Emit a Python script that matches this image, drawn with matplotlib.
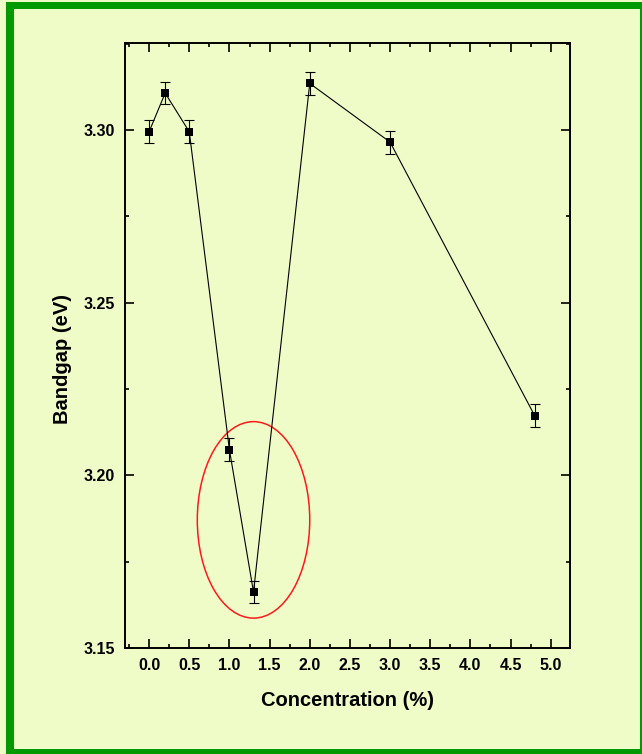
import matplotlib
matplotlib.use("Agg")
import matplotlib.pyplot as plt
from matplotlib.patches import Ellipse, Rectangle
from matplotlib.ticker import MultipleLocator

concentration = [0.0, 0.2, 0.5, 1.0, 1.3, 2.0, 3.0, 4.8]
bandgap = [3.2995, 3.3107, 3.2995, 3.2074, 3.1662, 3.3135, 3.2965, 3.2173]
bandgap_err = [0.0033, 0.0033, 0.0033, 0.0033, 0.0033, 0.0033, 0.0033, 0.0033]
x_ticks = [0.0, 0.5, 1.0, 1.5, 2.0, 2.5, 3.0, 3.5, 4.0, 4.5, 5.0]
y_ticks = [3.15, 3.20, 3.25, 3.30]

BG = "#F0FCC8"
GREEN = "#009A00"

plt.rcParams['font.family'] = ['Liberation Sans', 'DejaVu Sans']

fig = plt.figure(figsize=(6.42, 7.54), dpi=100, facecolor=BG)
W, H = 642, 754

def px_rect(x0, y0, x1, y1):
    fig.patches.append(Rectangle((x0, H - y1), x1 - x0, y1 - y0, transform=None,
                                 facecolor=GREEN, edgecolor='none', zorder=0))

px_rect(6, 2, 14, 754)     # left
px_rect(6, 2, 642, 9)      # top
px_rect(640, 2, 642, 754)  # right
px_rect(6, 749, 642, 754)  # bottom

ax = fig.add_axes([125 / W, 1 - 648 / H, (570 - 125) / W, (648 - 43) / H])
ax.set_facecolor(BG)

ax.errorbar(concentration, bandgap, yerr=bandgap_err, fmt='none', ecolor='black',
            elinewidth=0.8, capsize=3.5, capthick=0.8, zorder=2)
ax.plot(concentration, bandgap, '-', color='black', linewidth=0.8, zorder=2)
ax.plot(concentration, bandgap, 's', color='black', markersize=5.5,
        markeredgewidth=0, zorder=3)

ell = Ellipse((1.30, 3.1871), width=1.40, height=0.0569, fill=False,
              edgecolor='#FF1A1A', linewidth=1.1)
ax.add_patch(ell)

ax.set_xlim(-0.30, 5.24)
ax.set_ylim(3.15, 3.3252)
ax.set_xticks(x_ticks)
ax.set_xticklabels([f"{v:.1f}" for v in x_ticks])
ax.set_yticks(y_ticks)
ax.set_yticklabels([f"{v:.2f}" for v in y_ticks])
ax.xaxis.set_minor_locator(MultipleLocator(0.25))
ax.yaxis.set_minor_locator(MultipleLocator(0.025))

ax.tick_params(which='both', direction='in', top=True, right=True, width=1.2)
ax.tick_params(which='major', length=6.5)
ax.tick_params(which='minor', length=3)
ax.tick_params(axis='both', which='major', labelsize=11.5, pad=7.5)
for lab in ax.get_xticklabels() + ax.get_yticklabels():
    lab.set_fontweight('bold')

for s in ax.spines.values():
    s.set_linewidth(1.4)

ax.set_xlabel("Concentration (%)", fontsize=14.5, fontweight='bold')
ax.set_ylabel("Bandgap (eV)", fontsize=14.5, fontweight='bold')
ax.xaxis.set_label_coords((347.5 - 125) / 445, (648 - 691) / 605)
ax.xaxis.label.set_va('top')
ax.yaxis.set_label_coords((72 - 125) / 445, (648 - 359) / 605)

fig.savefig("out.png", dpi=100, facecolor=BG)
